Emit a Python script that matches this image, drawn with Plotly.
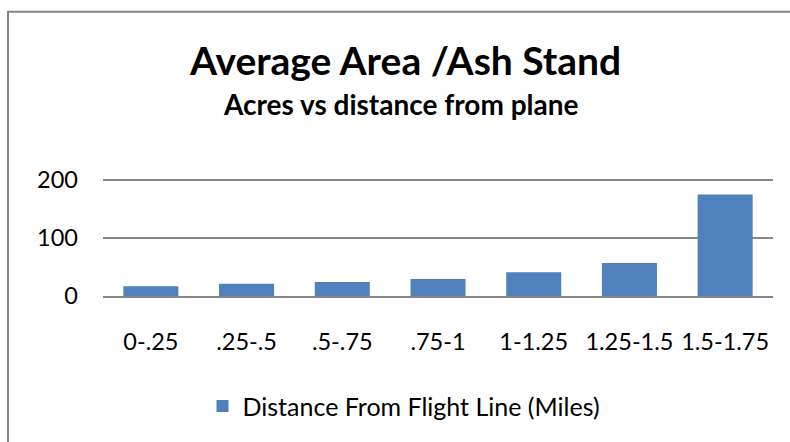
import plotly.graph_objects as go

# Average stand area by distance band
categories = ["0-.25", ".25-.5", ".5-.75", ".75-1", "1-1.25", "1.25-1.5", "1.5-1.75"]
acres = [17, 21, 24, 29.5, 41, 57, 175]
y_ticks = [0, 100, 200]
series_name = "Distance From Flight Line (Miles)"

W, H = 790, 442
L, R, T, B = 103, 17, 178, 144
PW = W - L - R
PH = H - T - B
Y_MAX = 200 * PH / 118  # keeps 100 units = 59 px with a little headroom for the top gridline


def px_x(px):
    return (px - L) / PW


def px_y(py):
    return (H - B - py) / PH


FONT = "Lato"
GRAY = "#868686"

fig = go.Figure(
    go.Bar(
        x=categories,
        y=acres,
        name=series_name,
        marker=dict(color="#4F81BD", line=dict(width=0)),
        width=0.575,
        showlegend=True,
    )
)

fig.update_layout(
    width=W,
    height=H,
    margin=dict(l=L, r=R, t=T, b=B),
    paper_bgcolor="white",
    plot_bgcolor="white",
    font=dict(family=FONT, color="black"),
    showlegend=True,
    legend=dict(
        orientation="h",
        x=px_x(404),
        xanchor="center",
        y=px_y(410),
        yanchor="middle",
        font=dict(size=25, family=FONT),
        itemwidth=30,
    ),
    xaxis=dict(
        showgrid=False,
        showline=True,
        linecolor=GRAY,
        linewidth=2,
        ticks="",
        tickfont=dict(size=23.5),
        ticklabelstandoff=24,
    ),
    yaxis=dict(
        range=[0, Y_MAX],
        tickvals=y_ticks,
        showgrid=True,
        gridcolor=GRAY,
        gridwidth=2,
        zeroline=False,
        showline=False,
        ticks="",
        tickfont=dict(size=23.5),
        ticklabelstandoff=24,
    ),
    shapes=[
        dict(
            type="rect",
            xref="paper",
            yref="paper",
            x0=px_x(8),
            x1=px_x(810),
            y0=px_y(460),
            y1=px_y(9),
            line=dict(color=GRAY, width=2),
            fillcolor="rgba(0,0,0,0)",
            layer="below",
        )
    ],
    annotations=[
        dict(
            text="<b>Average Area /Ash Stand</b>",
            xref="paper",
            yref="paper",
            x=px_x(405),
            y=px_y(58),
            xanchor="center",
            yanchor="middle",
            showarrow=False,
            font=dict(size=39, family=FONT),
        ),
        dict(
            text="<b>Acres vs distance from plane</b>",
            xref="paper",
            yref="paper",
            x=px_x(401),
            y=px_y(103),
            xanchor="center",
            yanchor="middle",
            showarrow=False,
            font=dict(size=28, family=FONT),
        ),
    ],
)

fig.write_html("out.html")
